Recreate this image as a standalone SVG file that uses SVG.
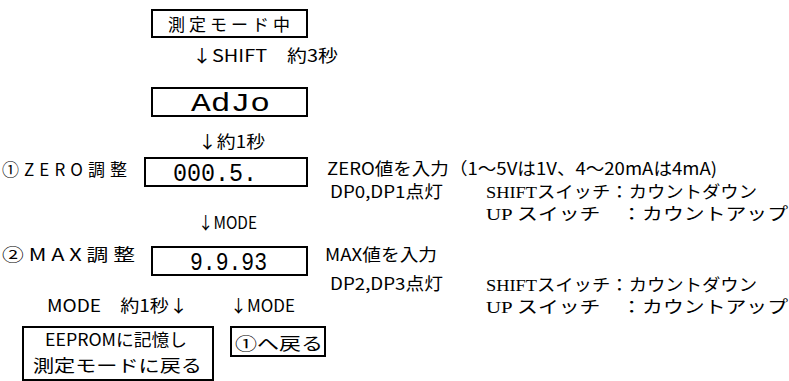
<svg xmlns="http://www.w3.org/2000/svg" width="789" height="381" viewBox="0 0 789 381">
<style>
.bx{fill:#fff;stroke:#000;stroke-width:2}
.g{font-family:"Noto Sans CJK JP","DejaVu Sans",sans-serif;font-size:17px;fill:#000}
.m{font-family:"Liberation Serif","Noto Sans CJK JP",serif;font-size:17px;fill:#000}
.s{font-family:"Liberation Mono","DejaVu Sans Mono",monospace;font-size:25px;fill:#000}
</style>
<rect width="789" height="381" fill="#fff"/>
<g id="node-measure">
<rect class="bx" x="152" y="10" width="155" height="27"/>
<text class="g" x="168" y="31" textLength="122" lengthAdjust="spacing">測定モード中</text>
</g>
<g id="node-adjo">
<rect class="bx" x="152" y="88" width="155" height="28"/>
<text class="s" x="191" y="111" textLength="79" lengthAdjust="spacingAndGlyphs">AdJo</text>
</g>
<g id="node-zero">
<text class="g" x="2" y="176" textLength="125" lengthAdjust="spacing">①ZERO調整</text>
<rect class="bx" x="145" y="158" width="162" height="28"/>
<text class="s" x="173" y="181" textLength="84" lengthAdjust="spacingAndGlyphs">000.5.</text>
<text class="g" x="327" y="175" textLength="390" lengthAdjust="spacingAndGlyphs">ZERO値を入力（1〜5Vは1V、4〜20mAは4mA)</text>
<text class="g" x="330" y="198" textLength="113" lengthAdjust="spacingAndGlyphs">DP0,DP1点灯</text>
<text class="m" x="486" y="198" textLength="271" lengthAdjust="spacingAndGlyphs">SHIFTスイッチ：カウントダウン</text>
<text class="m" x="486" y="220" textLength="302" lengthAdjust="spacingAndGlyphs">UP スイッチ　：カウントアップ</text>
</g>
<g id="node-max">
<text class="g" x="2" y="261" textLength="133" lengthAdjust="spacingAndGlyphs">② M A X 調 整</text>
<rect class="bx" x="152" y="247" width="155" height="28"/>
<text class="s" x="190" y="270" textLength="77" lengthAdjust="spacingAndGlyphs">9.9.93</text>
<text class="g" x="325" y="261" textLength="112" lengthAdjust="spacingAndGlyphs">MAX値を入力</text>
<text class="g" x="330" y="290" textLength="113" lengthAdjust="spacingAndGlyphs">DP2,DP3点灯</text>
<text class="m" x="486" y="291" textLength="271" lengthAdjust="spacingAndGlyphs">SHIFTスイッチ：カウントダウン</text>
<text class="m" x="486" y="313" textLength="302" lengthAdjust="spacingAndGlyphs">UP スイッチ　：カウントアップ</text>
</g>
<g id="node-save">
<rect class="bx" x="23" y="327" width="190" height="53"/>
<text class="g" x="45" y="346" textLength="142" lengthAdjust="spacingAndGlyphs">EEPROMに記憶し</text>
<text class="g" x="33" y="372" textLength="169" lengthAdjust="spacingAndGlyphs">測定モードに戻る</text>
</g>
<g id="node-back">
<rect class="bx" x="231" y="327" width="94" height="29"/>
<text class="g" x="235" y="350" textLength="88" lengthAdjust="spacingAndGlyphs">①へ戻る</text>
</g>
<g id="connectors">
<text class="g" x="192" y="62" textLength="146" lengthAdjust="spacingAndGlyphs">↓SHIFT　約3秒</text>
<text class="g" x="198" y="148" textLength="67" lengthAdjust="spacingAndGlyphs">↓約1秒</text>
<text class="g" x="198" y="229" textLength="59" lengthAdjust="spacingAndGlyphs">↓MODE</text>
<text class="g" x="47" y="312" textLength="141" lengthAdjust="spacingAndGlyphs">MODE　約1秒↓</text>
<text class="g" x="230" y="312" textLength="65" lengthAdjust="spacingAndGlyphs">↓MODE</text>
</g>
</svg>
